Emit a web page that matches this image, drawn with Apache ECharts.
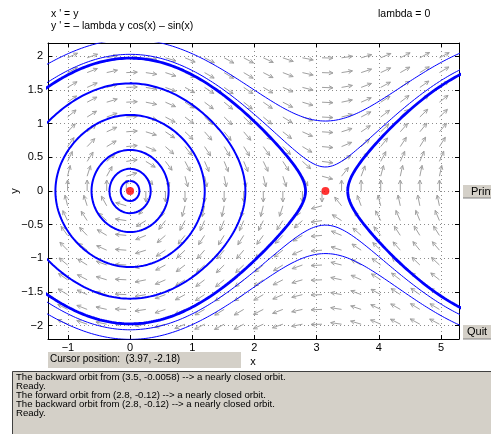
<!DOCTYPE html>
<html><head><meta charset="utf-8">
<script src="https://cdn.jsdelivr.net/npm/echarts@6/dist/echarts.min.js"></script>
<style>html,body{margin:0;padding:0;background:#fff;overflow:hidden}#c{width:491px;height:434px}</style>
</head><body><div id="c"></div>
<script>
// ---- chart values ----
const lambda = 0;
const xLimits = [-1.32, 5.29];
const yLimits = [-2.2, 2.2];
const xTickValues = [-1, 0, 1, 2, 3, 4, 5];
const yTickValues = [-2, -1.5, -1, -0.5, 0, 0.5, 1, 1.5, 2];
const equilibriumX = [0, 3.1416];
const equilibriumY = [0, 0];
// closed orbits: start point and the x of the centre they go round
const closedStartX = [0, 0, 0, 0, 0, 2.8, 3.5];
const closedStartY = [0.15, 0.33, 0.61, 1.13, 1.6, -0.12, -0.0058];
const closedCentreX = [0, 0, 0, 0, 0, 0, 6.2832];
const closedHeavy = [false, false, false, false, false, true, true];
// open (rotating) orbits: where they cross x = pi
const openStartX = [3.1416, 3.1416, 3.1416, 3.1416];
const openStartY = [1.04, 0.357, -0.507, -0.93];
// direction field sampling
const fieldCols = 20;
const fieldRows = 19;
const titleLines = ["x ' = y", "y ' = \u2013 lambda y cos(x) \u2013 sin(x)"];
const paramText = 'lambda = 0';
const xName = 'x';
const yName = 'y';
const cursorText = 'Cursor position:  (3.97, -2.18)';
const messages = [
  'The backward orbit from (3.5, -0.0058) --> a nearly closed orbit.',
  'Ready.',
  'The forward orbit from (2.8, -0.12) --> a nearly closed orbit.',
  'The backward orbit from (2.8, -0.12) --> a nearly closed orbit.',
  'Ready.'
];

// ---- the system ----
function field(x, y) { return [y, -lambda * y * Math.cos(x) - Math.sin(x)]; }
function rk4(p, h) {
  const k1 = field(p[0], p[1]);
  const k2 = field(p[0] + h / 2 * k1[0], p[1] + h / 2 * k1[1]);
  const k3 = field(p[0] + h / 2 * k2[0], p[1] + h / 2 * k2[1]);
  const k4 = field(p[0] + h * k3[0], p[1] + h * k3[1]);
  return [p[0] + h / 6 * (k1[0] + 2 * k2[0] + 2 * k3[0] + k4[0]),
          p[1] + h / 6 * (k1[1] + 2 * k2[1] + 2 * k3[1] + k4[1])];
}
function closedOrbit(x0, y0, cx) {
  let p = [x0, y0]; const pts = [p.slice()];
  let a = Math.atan2(p[1], p[0] - cx), total = 0;
  for (let i = 0; i < 40000 && total < 2 * Math.PI + 0.02; i++) {
    p = rk4(p, 0.005);
    const b = Math.atan2(p[1], p[0] - cx);
    let d = b - a; if (d > Math.PI) d -= 2 * Math.PI; if (d < -Math.PI) d += 2 * Math.PI;
    total += Math.abs(d); a = b; pts.push(p.slice());
  }
  return pts;
}
function openOrbit(x0, y0) {
  const lo = xLimits[0] - 0.5, hi = xLimits[1] + 0.5;
  const run = (h) => {
    let p = [x0, y0]; const out = [];
    for (let i = 0; i < 20000; i++) { p = rk4(p, h); out.push(p.slice()); if (p[0] < lo || p[0] > hi) break; }
    return out;
  };
  return run(-0.01).reverse().concat([[x0, y0]], run(0.01));
}

const series = [];
for (let i = 0; i < closedStartX.length; i++) {
  series.push({ type: 'line', data: closedOrbit(closedStartX[i], closedStartY[i], closedCentreX[i]),
    showSymbol: false, silent: true, clip: true, z: 3,
    lineStyle: { color: '#0000ff', width: closedHeavy[i] ? 2.8 : 2 } });
}
for (let i = 0; i < openStartX.length; i++) {
  series.push({ type: 'line', data: openOrbit(openStartX[i], openStartY[i]),
    showSymbol: false, silent: true, clip: true, z: 3,
    lineStyle: { color: '#0000ff', width: 1 } });
}
// direction field
const grid = [];
const W = xLimits[1] - xLimits[0], H = yLimits[1] - yLimits[0];
for (let i = 1; i <= fieldCols; i++)
  for (let j = 1; j <= fieldRows; j++)
    grid.push([xLimits[0] + i * W / (fieldCols + 1), yLimits[0] + j * H / (fieldRows + 1)]);
series.push({
  type: 'custom', data: grid, z: 2, silent: true, clip: true,
  renderItem(params, api) {
    const x = api.value(0), y = api.value(1);
    const p = api.coord([x, y]);
    const s = api.size([1, 1]);
    const v = field(x, y);
    let dx = v[0] * s[0], dy = -v[1] * s[1];
    const n = Math.hypot(dx, dy);
    if (n < 1e-9) return null;
    dx /= n; dy /= n;
    const L = 11, hl = 4.5, ang = 0.45;
    const tip = [p[0] + dx * L, p[1] + dy * L];
    const c = Math.cos(ang), sn = Math.sin(ang);
    const h1 = [tip[0] - hl * (dx * c - dy * sn), tip[1] - hl * (dx * sn + dy * c)];
    const h2 = [tip[0] - hl * (dx * c + dy * sn), tip[1] - hl * (-dx * sn + dy * c)];
    const st = { stroke: '#a0a0a0', lineWidth: 1, fill: null };
    return { type: 'group', children: [
      { type: 'line', shape: { x1: p[0], y1: p[1], x2: tip[0], y2: tip[1] }, style: st },
      { type: 'polyline', shape: { points: [h1, tip, h2] }, style: st }
    ] };
  }
});
series.push({ type: 'scatter', data: equilibriumX.map((x, i) => [x, equilibriumY[i]]),
  symbolSize: 8, itemStyle: { color: '#ff0000' }, z: 5, silent: true });

const minus = v => String(v).replace('-', '\u2212');
const font = 'Liberation Sans, Arial, sans-serif';
const axisLine = { show: true, onZero: false, lineStyle: { color: '#000', width: 1 } };
const dotted = { show: true, lineStyle: { color: '#8c8c8c', width: 1, type: [1, 3] } };

const chart = echarts.init(document.getElementById('c'), null, { renderer: 'canvas' });
chart.setOption({
  animation: false,
  backgroundColor: '#ffffff',
  grid: { left: 48, top: 43, width: 411, height: 296, containLabel: false, outerBoundsMode: 'none' },
  xAxis: [
    { type: 'value', min: xLimits[0], max: xLimits[1], position: 'bottom', axisLine,
      axisTick: { inside: true, length: 4, customValues: xTickValues, lineStyle: { color: '#000' } },
      axisLabel: { customValues: xTickValues, formatter: minus, fontSize: 11, color: '#000', margin: 3, fontFamily: font },
      splitLine: dotted },
    { type: 'value', min: xLimits[0], max: xLimits[1], position: 'top', axisLine,
      axisTick: { inside: true, length: 4, customValues: xTickValues, lineStyle: { color: '#000' } },
      axisLabel: { show: false }, splitLine: { show: false } }
  ],
  yAxis: [
    { type: 'value', min: yLimits[0], max: yLimits[1], position: 'left', axisLine,
      axisTick: { inside: true, length: 4, customValues: yTickValues, lineStyle: { color: '#000' } },
      axisLabel: { customValues: yTickValues, formatter: minus, fontSize: 11, color: '#000', margin: 5, fontFamily: font },
      splitLine: dotted },
    { type: 'value', min: yLimits[0], max: yLimits[1], position: 'right', axisLine,
      axisTick: { inside: true, length: 4, customValues: yTickValues, lineStyle: { color: '#000' } },
      axisLabel: { show: false }, splitLine: { show: false } }
  ],
  series,
  graphic: [
    { type: 'text', left: 51, top: 9, style: { text: titleLines[0], font: '10.5px ' + font, fill: '#000' } },
    { type: 'text', left: 51, top: 21, style: { text: titleLines[1], font: '10.5px ' + font, fill: '#000' } },
    { type: 'text', left: 378, top: 9, style: { text: paramText, font: '10.5px ' + font, fill: '#000' } },
    { type: 'text', x: 253, y: 362, style: { text: xName, font: '11px ' + font, fill: '#000', align: 'center', verticalAlign: 'middle' } },
    { type: 'text', x: 15, y: 191, rotation: Math.PI / 2, style: { text: yName, font: '11px ' + font, fill: '#000', align: 'center', verticalAlign: 'middle' } },
    { type: 'rect', shape: { x: 48, y: 352, width: 193, height: 16 }, style: { fill: '#d4d0c8' } },
    { type: 'text', x: 50, y: 354, style: { text: cursorText, font: '10px ' + font, fill: '#000' } },
    { type: 'rect', shape: { x: 12, y: 371, width: 480, height: 64 }, style: { fill: '#d4d0c8' } },
    { type: 'polyline', shape: { points: [[12.5, 434], [12.5, 371.5], [491, 371.5]] }, style: { stroke: '#404040', lineWidth: 1, fill: null } },
    { type: 'text', x: 16, y: 372.5, style: { text: messages.join('\n'), font: '9.6px ' + font, lineHeight: 9, fill: '#000' } },
    { type: 'rect', shape: { x: 463, y: 185, width: 30, height: 13 }, style: { fill: '#d4d0c8' } },
    { type: 'line', shape: { x1: 463, y1: 198, x2: 491, y2: 198 }, style: { stroke: '#808080', lineWidth: 1 } },
    { type: 'text', x: 471, y: 186, style: { text: 'Print', font: '11px ' + font, fill: '#000' } },
    { type: 'rect', shape: { x: 463, y: 325, width: 30, height: 14 }, style: { fill: '#d4d0c8' } },
    { type: 'line', shape: { x1: 463, y1: 339, x2: 491, y2: 339 }, style: { stroke: '#808080', lineWidth: 1 } },
    { type: 'text', x: 467, y: 326, style: { text: 'Quit', font: '11px ' + font, fill: '#000' } }
  ]
});
</script></body></html>
